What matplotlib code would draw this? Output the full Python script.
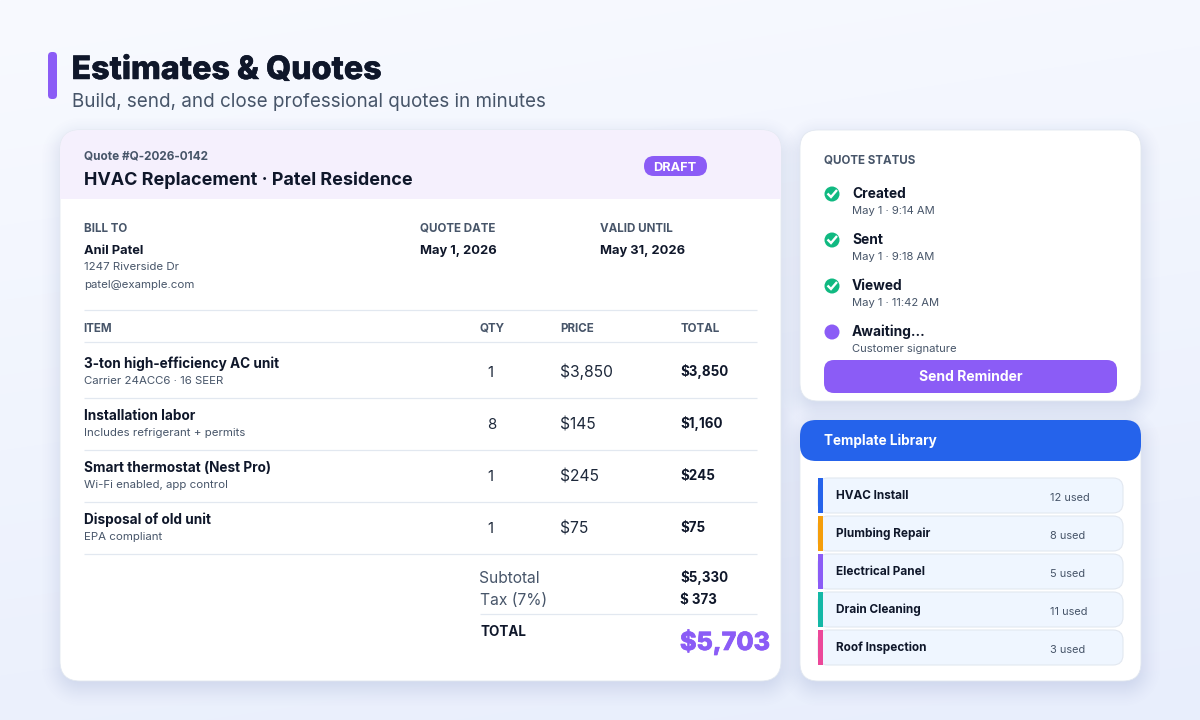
import numpy as np
import matplotlib
matplotlib.use("Agg")
import matplotlib.pyplot as plt
import matplotlib.patheffects as pe
from matplotlib.patches import FancyBboxPatch, Circle, Rectangle

# ---- content ----
title = "Estimates & Quotes"
subtitle = "Build, send, and close professional quotes in minutes"
quote_no = "Quote #Q-2026-0142"
quote_name = "HVAC Replacement \u00b7 Patel Residence"
badge = "DRAFT"
meta_labels = ["BILL TO", "QUOTE DATE", "VALID UNTIL"]
meta_values = ["Anil Patel", "May 1, 2026", "May 31, 2026"]
bill_lines = ["1247 Riverside Dr", "patel@example.com"]
col_labels = ["ITEM", "QTY", "PRICE", "TOTAL"]
item_names = ["3-ton high-efficiency AC unit", "Installation labor", "Smart thermostat (Nest Pro)", "Disposal of old unit"]
item_notes = ["Carrier 24ACC6 \u00b7 16 SEER", "Includes refrigerant + permits", "Wi-Fi enabled, app control", "EPA compliant"]
item_qty = [1, 8, 1, 1]
item_price = ["$3,850", "$145", "$245", "$75"]
item_total = ["$3,850", "$1,160", "$245", "$75"]
sum_labels = ["Subtotal", "Tax (7%)"]
sum_values = ["$5,330", "$ 373"]
grand_label = "TOTAL"
grand_value = "$5,703"
status_title = "QUOTE STATUS"
status_names = ["Created", "Sent", "Viewed", "Awaiting..."]
status_notes = ["May 1 \u00b7 9:14 AM", "May 1 \u00b7 9:18 AM", "May 1 \u00b7 11:42 AM", "Customer signature"]
status_done = [True, True, True, False]
button = "Send Reminder"
lib_title = "Template Library"
tpl_names = ["HVAC Install", "Plumbing Repair", "Electrical Panel", "Drain Cleaning", "Roof Inspection"]
tpl_used = [12, 8, 5, 11, 3]
tpl_colors = ["#2563EB", "#F59E0B", "#8B5CF6", "#14B8A6", "#EC4899"]

INK, SLATE, LINE = "#0F172A", "#475569", "#E2E8F0"
PURPLE, GREEN, BLUE = "#8B5CF6", "#10B981", "#2563EB"
plt.rcParams["font.family"] = ["Inter", "DejaVu Sans"]

fig = plt.figure(figsize=(12, 7.2), dpi=100)
ax = fig.add_axes([0, 0, 1, 1])
W, H = 1200, 720

# background gradient
yy, xx = np.mgrid[0:H, 0:W]
t = (yy / H * 0.8 + xx / W * 0.2)[..., None]
bg = np.array([0xF8, 0xFA, 0xFF]) * (1 - t) + np.array([0xE8, 0xEE, 0xFC]) * t
ax.imshow(bg / 255, extent=(0, W, H, 0), zorder=0, aspect="auto")

# soft card shadows
def shadow(x0, y0, x1, y1, r=20, blur=22, dy=6, a=0.24):
    cx, cy = (x0 + x1) / 2, (y0 + y1) / 2 + dy
    qx = np.abs(xx - cx) - ((x1 - x0) / 2 - r)
    qy = np.abs(yy - cy) - ((y1 - y0) / 2 - r)
    d = np.hypot(np.maximum(qx, 0), np.maximum(qy, 0)) + np.minimum(np.maximum(qx, qy), 0) - r
    u = np.clip(0.5 - d / (2 * blur), 0, 1)
    al = a * u * u * (3 - 2 * u)
    img = np.zeros((H, W, 4))
    img[..., 0], img[..., 1], img[..., 2] = 90 / 255, 110 / 255, 170 / 255
    img[..., 3] = al
    ax.imshow(img, extent=(0, W, H, 0), zorder=1, aspect="auto")

def rbox(x0, y0, x1, y1, r, fc, ec="none", lw=0, z=2):
    p = FancyBboxPatch((x0 + r, y0 + r), x1 - x0 - 2 * r, y1 - y0 - 2 * r,
                       boxstyle=f"round,pad={r},rounding_size={r}", fc=fc, ec=ec, lw=lw, zorder=z)
    ax.add_patch(p)
    return p

def T(x, y, s, px, weight=400, color=INK, ha="left", z=6, heavy=0, **kw):
    tx = ax.text(x, y, s, fontsize=px * 0.72, fontweight=weight, color=color, ha=ha, va="baseline", zorder=z, **kw)
    if heavy:
        tx.set_path_effects([pe.withStroke(linewidth=heavy, foreground=color)])
    return tx

def hline(y, x0=84, x1=757):
    ax.plot([x0, x1], [y, y], color=LINE, lw=0.9, zorder=4, solid_capstyle="butt")

# heading
rbox(48, 52, 57, 99, 4, PURPLE)
T(71.5, 79, title, 32.2, 800, heavy=0.35)
T(71.5, 107, subtitle, 18.8, 400, SLATE)

# cards
for b in [(60, 130, 781, 681, 20), (800, 130, 1141, 401, 18), (800, 420, 1141, 681, 18)]:
    shadow(*b)
main = rbox(60, 130, 781, 681, 20, "white", LINE, 0.6)
band = Rectangle((60, 130), 721, 69, fc="#F5F0FD", ec="none", zorder=3)
ax.add_patch(band)
band.set_clip_path(main)

T(84, 160, quote_no, 11.8, 700, SLATE)
T(84, 185, quote_name, 18, 700)
rbox(644, 156, 707, 176, 10, PURPLE, z=4)
T(675, 171, badge, 12.8, 700, "white", ha="center")

for x, lab, val in zip([83.5, 420, 600], meta_labels, meta_values):
    T(x, 232, lab, 11.6, 700, SLATE)
    T(x, 254, val, 12.9, 700)
for y, s in zip([270, 288], bill_lines):
    T(84, y, s, 11.5, 400, SLATE)

hline(310)
for x, lab in zip([83.5, 480, 560, 681], col_labels):
    T(x, 332, lab, 11.6, 700, SLATE)
hline(342)

for i in range(len(item_names)):
    dy = 52 * i
    T(84, 368 + dy, item_names[i], 13.6, 700)
    T(84, 384 + dy, item_notes[i], 11.5, 400, SLATE)
    T(487.5, 377 + dy, str(item_qty[i]), 15, 400, "#1E293B")
    T(560, 377.4 + dy, item_price[i], 15.6, 400, "#1E293B")
    T(680, 376 + dy, item_total[i], 13.4, 700)
    hline(398 + dy)

for i in range(2):
    T(479.5, 583 + 22 * i, sum_labels[i], 15.6, 400, SLATE)
    T(680, 582 + 22 * i, sum_values[i], 13.4, 700)
hline(614, 480, 757)
T(480.5, 636, grand_label, 13.4, 700)
T(680, 650, grand_value, 25, 800, PURPLE, heavy=0.5)

# status card
rbox(800, 130, 1141, 401, 18, "white", LINE, 0.6)
T(824, 164, status_title, 11.6, 700, SLATE)
for i, name in enumerate(status_names):
    dy = 46 * i
    cy = 194 + dy
    ax.add_patch(Circle((832, cy), 7.5, fc=GREEN if status_done[i] else PURPLE, ec="none", zorder=5))
    if status_done[i]:
        ax.plot([827.5, 831, 837], [cy - 0.5, cy + 3, cy - 4], color="white", lw=1.7, zorder=6,
                solid_capstyle="butt", solid_joinstyle="miter")
    T(852, 198 + dy, name, 13.8, 700)
    T(852, 214 + dy, status_notes[i], 11.2, 400, SLATE)
rbox(824, 360, 1117, 393, 10, PURPLE, z=4)
T(970.5, 381, button, 14, 700, "white", ha="center")

# template card
rbox(800, 420, 1141, 681, 18, "white", LINE, 0.6)
rbox(800, 420, 1141, 461, 16, BLUE, z=4)
T(824, 445, lib_title, 13.5, 700, "white")
for i, name in enumerate(tpl_names):
    y0 = 478 + 38 * i
    rbox(818, y0, 1123, y0 + 35, 10, "#EFF6FF", LINE, 0.8, z=3)
    ax.add_patch(Rectangle((818, y0), 5, 35, fc=tpl_colors[i], ec="none", zorder=5))
    T(836, y0 + 21, name, 11.8, 700)
    T(1050, y0 + 23, f"{tpl_used[i]} used", 11, 400, SLATE)

ax.set_xlim(0, W)
ax.set_ylim(H, 0)
ax.axis("off")
fig.savefig("out.png", dpi=100)
